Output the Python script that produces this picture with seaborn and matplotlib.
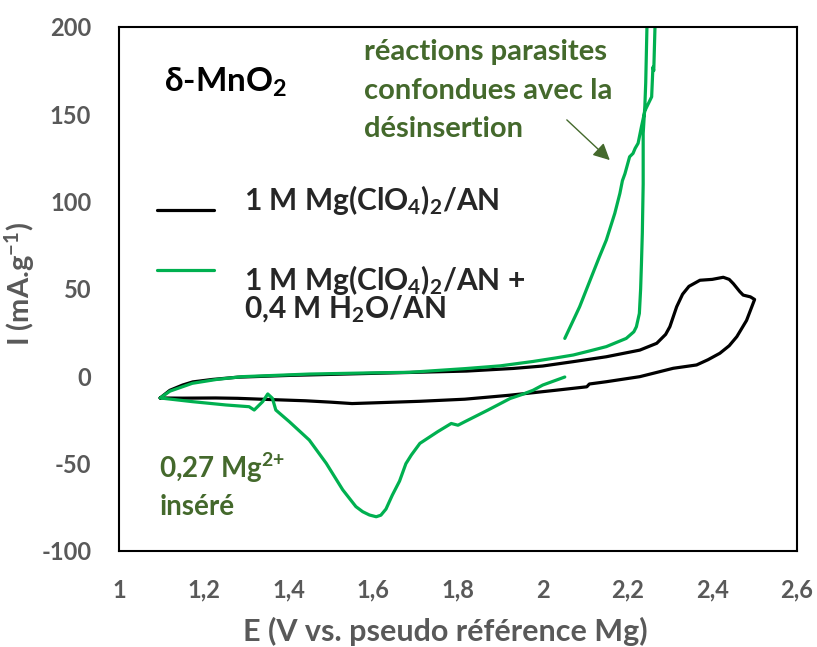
import numpy as np
import pandas as pd
import matplotlib
matplotlib.use("Agg")
import matplotlib.pyplot as plt
import seaborn as sns

# black CV : 1 M Mg(ClO4)2/AN
e_black = [1.097, 1.12, 1.15, 1.174, 1.22, 1.28, 1.40, 1.50, 1.65, 1.82, 1.93, 2.0, 2.072,
           2.15, 2.229, 2.269, 2.29, 2.30, 2.316, 2.33, 2.345, 2.371, 2.40, 2.426, 2.44, 2.45,
           2.465, 2.473, 2.49, 2.50,
           2.481, 2.458, 2.44, 2.418, 2.39, 2.363, 2.308, 2.229, 2.15, 2.11, 2.104, 2.03,
           1.923, 1.816, 1.71, 1.60, 1.55, 1.50, 1.44, 1.38, 1.335, 1.28, 1.228, 1.15, 1.097]
i_black = [-12.4, -8, -5, -3.2, -1.8, -0.5, 0.5, 1.1, 2, 3, 4.5, 5.9, 8.4,
           11.2, 15, 18.9, 24, 28.4, 39.8, 47, 51.5, 55, 55.5, 56.7, 55.5, 53,
           48.5, 46.5, 45.5, 44,
           32, 22.7, 17.5, 13.2, 9.5, 6.5, 4.6, -0.2, -3.1, -4.4, -6, -8,
           -10.8, -13.1, -14.3, -15.2, -15.6, -14.8, -14, -13.5, -13.1, -12.6, -12.4, -12.5, -12.4]

# green CV : 1 M Mg(ClO4)2/AN + 0,4 M H2O/AN
e_green = [2.052, 2.0, 1.977, 1.95, 1.923, 1.87, 1.816, 1.80, 1.784, 1.752, 1.71, 1.69, 1.677,
           1.662, 1.645, 1.63, 1.618, 1.607, 1.591, 1.575, 1.559, 1.528, 1.489, 1.449, 1.402,
           1.37, 1.362, 1.351, 1.339, 1.319, 1.307, 1.252, 1.173, 1.097,
           1.12, 1.173, 1.23, 1.29, 1.449, 1.60, 1.686, 1.816, 1.90, 1.977, 2.03, 2.072, 2.11,
           2.15, 2.197, 2.215, 2.221, 2.228, 2.231, 2.233, 2.235, 2.237, 2.237, 2.241, 2.243,
           2.246, 2.248,
           2.264, 2.265, 2.262, 2.26, 2.257, 2.241, 2.233, 2.225, 2.218, 2.213, 2.205, 2.194,
           2.188, 2.182, 2.17, 2.15, 2.133, 2.115, 2.087, 2.052]
i_green = [-0.4, -5, -8, -10.5, -12.7, -19.4, -26, -28, -27, -31.7, -38.4, -45, -50,
           -60, -68, -76, -79.5, -80.4, -79.4, -77.5, -74.6, -65, -49.8, -36.5, -26,
           -19.3, -12.6, -10.1, -14.5, -19.3, -17.4, -16.4, -14.5, -12.4,
           -8.5, -4, -1.8, -0.2, 1.3, 2, 2.3, 4.4, 6, 8.5, 10.5, 12.2, 14.5,
           17, 21.7, 25.5, 28.4, 36, 50, 65, 82, 110, 139, 155, 168,
           201, 230,
           230, 201, 175, 177, 160, 152, 143, 133.4, 130.5, 127.6, 125.7, 116,
           112, 104.7, 93.3, 78, 68, 57, 39.8, 21.7]

x_ticks = [1, 1.2, 1.4, 1.6, 1.8, 2, 2.2, 2.4, 2.6]
x_tick_labels = ["1", "1,2", "1,4", "1,6", "1,8", "2", "2,2", "2,4", "2,6"]
y_ticks = [-100, -50, 0, 50, 100, 150, 200]
y_tick_labels = ["-100", "-50", "0", "50", "100", "150", "200"]

label_black = "1 M Mg(ClO$_4$)$_2$/AN"
label_green = "1 M Mg(ClO$_4$)$_2$/AN +\n0,4 M H$_2$O/AN"

black_col = "black"
green_col = "#00B050"
note_col = "#44692C"
grey = "#595959"

sns.set_style("white")
plt.rcParams["font.family"] = ["Lato", "DejaVu Sans"]
plt.rcParams["font.weight"] = "bold"
plt.rcParams["mathtext.fontset"] = "custom"
plt.rcParams["mathtext.rm"] = "Lato:bold"
plt.rcParams["mathtext.bf"] = "Lato:bold"
plt.rcParams["mathtext.it"] = "Lato:bold"
plt.rcParams["mathtext.default"] = "bf"

df_b = pd.DataFrame({"E": e_black, "I": i_black})
df_g = pd.DataFrame({"E": e_green, "I": i_green})

fig = plt.figure(figsize=(8.17, 6.47), dpi=100)
ax = fig.add_axes([0.1457, 0.1484, 0.8298, 0.8099])

sns.lineplot(data=df_b, x="E", y="I", sort=False, estimator=None, color=black_col, lw=2.3, ax=ax)
sns.lineplot(data=df_g, x="E", y="I", sort=False, estimator=None, color=green_col, lw=2.3, ax=ax)

ax.set_xlim(1, 2.6)
ax.set_ylim(-100, 200)
ax.set_xticks(x_ticks)
ax.set_xticklabels(x_tick_labels)
ax.set_yticks(y_ticks)
ax.set_yticklabels(y_tick_labels)
ax.tick_params(direction="in", length=7, width=1.5, pad=20, labelsize=17, labelcolor=grey,
               colors="black")
for lab in ax.get_xticklabels() + ax.get_yticklabels():
    lab.set_fontweight("bold")
for s in ax.spines.values():
    s.set_color("black")
    s.set_linewidth(1.5)

ax.set_xlabel("E (V vs. pseudo référence Mg)", fontsize=22, color=grey, fontweight="bold")
ax.set_ylabel("I (mA.g$^{-1}$)", fontsize=21, color=grey, fontweight="bold")
ax.xaxis.set_label_coords(0.481, -0.125)
ax.yaxis.set_label_coords(-0.121, 0.51)

# material label
ax.text(1.106, 168.5, "δ-MnO$_2$", fontsize=24, fontweight="bold", color="black", va="center")

# hand-made legend
leg_x = [1.09, 1.225]
ax.plot(leg_x, [95.3, 95.3], color=black_col, lw=2.3)
ax.plot(leg_x, [61, 61], color=green_col, lw=2.3)
ax.text(1.295, 101, label_black, fontsize=21.5, fontweight="bold", va="center")
ax.text(1.295, 65, label_green, fontsize=21.5, fontweight="bold", va="top", linespacing=0.85)

# annotations
ax.text(1.579, 193, "réactions parasites\nconfondues avec la\ndésinsertion", fontsize=21,
        fontweight="bold", color=note_col, va="top", linespacing=1.6)
ax.annotate("", xy=(2.163, 122.7), xytext=(2.052, 147.9),
            arrowprops=dict(arrowstyle="-|>", color=note_col, lw=1, mutation_scale=25))
ax.text(1.095, -42.5, "0,27 Mg$^{2{+}}$\ninséré", fontsize=20, fontweight="bold", color=note_col,
        va="top", linespacing=1.43)

fig.savefig("out.png", dpi=100)
